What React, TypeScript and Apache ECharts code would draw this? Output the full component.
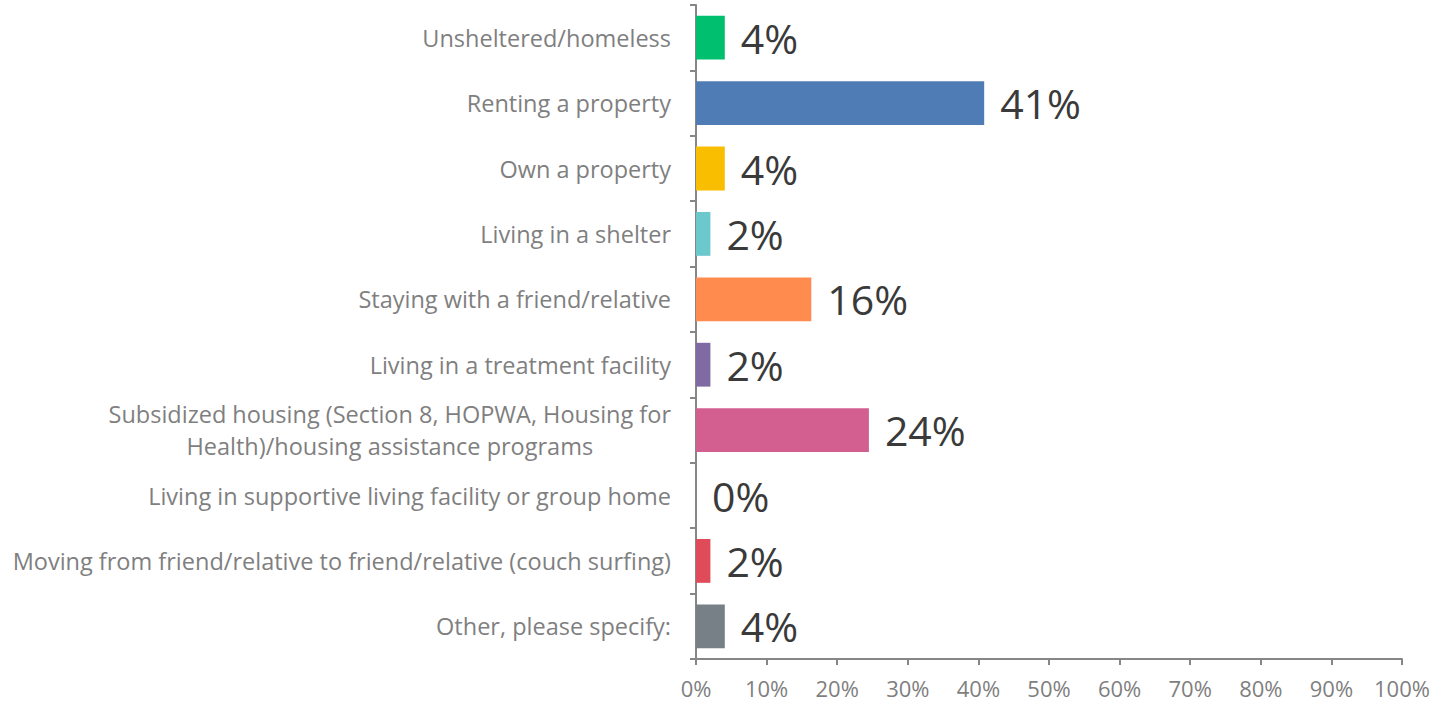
import React, { useEffect, useRef } from "react";
import * as echarts from "echarts";

const categories = [
  "Unsheltered/homeless",
  "Renting a property",
  "Own a property",
  "Living in a shelter",
  "Staying with a friend/relative",
  "Living in a treatment facility",
  "Subsidized housing (Section 8, HOPWA, Housing for\nHealth)/housing assistance programs",
  "Living in supportive living facility or group home",
  "Moving from friend/relative to friend/relative (couch surfing)",
  "Other, please specify:",
];

const values = [4.08, 40.82, 4.08, 2.04, 16.33, 2.04, 24.49, 0, 2.04, 4.08];

const colors = [
  "#00BF6F",
  "#507CB6",
  "#F9BE00",
  "#6BC8CD",
  "#FF8B4F",
  "#7F6AA2",
  "#D25F90",
  "#A6A6A6",
  "#E04B59",
  "#768086",
];

const xTicks = { min: 0, max: 100, interval: 10 };

export default function App() {
  const ref = useRef<HTMLDivElement>(null);
  useEffect(() => {
    if (!ref.current) return;
    const chart = echarts.init(ref.current, undefined, { renderer: "svg" });
    const font = "'Open Sans', 'Noto Sans', sans-serif";
    chart.setOption({
      animation: false,
      backgroundColor: "#ffffff",
      grid: { left: 696, right: 39, top: 5, bottom: 46, containLabel: false },
      xAxis: {
        type: "value",
        min: xTicks.min,
        max: xTicks.max,
        interval: xTicks.interval,
        axisLine: { show: true, lineStyle: { color: "#868686", width: 2 } },
        axisTick: { show: true, length: 6, lineStyle: { color: "#868686", width: 2 } },
        splitLine: { show: false },
        axisLabel: {
          formatter: "{value}%",
          color: "#7f7f7f",
          fontSize: 22,
          lineHeight: 22,
          fontFamily: font,
          margin: 18,
        },
      },
      yAxis: {
        type: "category",
        inverse: true,
        data: categories,
        axisLine: { show: true, lineStyle: { color: "#868686", width: 2 } },
        axisTick: { show: true, length: 6, lineStyle: { color: "#868686", width: 2 } },
        axisLabel: {
          color: "#7f7f7f",
          fontSize: 23.5,
          fontFamily: font,
          margin: 25,
          formatter: (v: string) =>
            v
              .split("\n")
              .map((l) => `{c|${l}}`)
              .join("\n"),
          rich: {
            c: {
              align: "center",
              color: "#7f7f7f",
              fontSize: 23.5,
              fontFamily: font,
              lineHeight: 32,
            },
          },
        },
      },
      series: [
        {
          type: "bar",
          barWidth: "67%",
          data: values.map((v, i) => ({ value: v, itemStyle: { color: colors[i] } })),
          label: {
            show: true,
            position: "right",
            distance: 16,
            color: "#3a3a3a",
            fontSize: 41,
            fontFamily: font,
            formatter: (p: any) => `${Math.round(p.value)}%`,
          },
        },
      ],
    });
    return () => chart.dispose();
  }, []);
  return (
    <div
      ref={ref}
      style={{ position: "absolute", left: 0, top: 0, width: 1441, height: 705 }}
    />
  );
}
